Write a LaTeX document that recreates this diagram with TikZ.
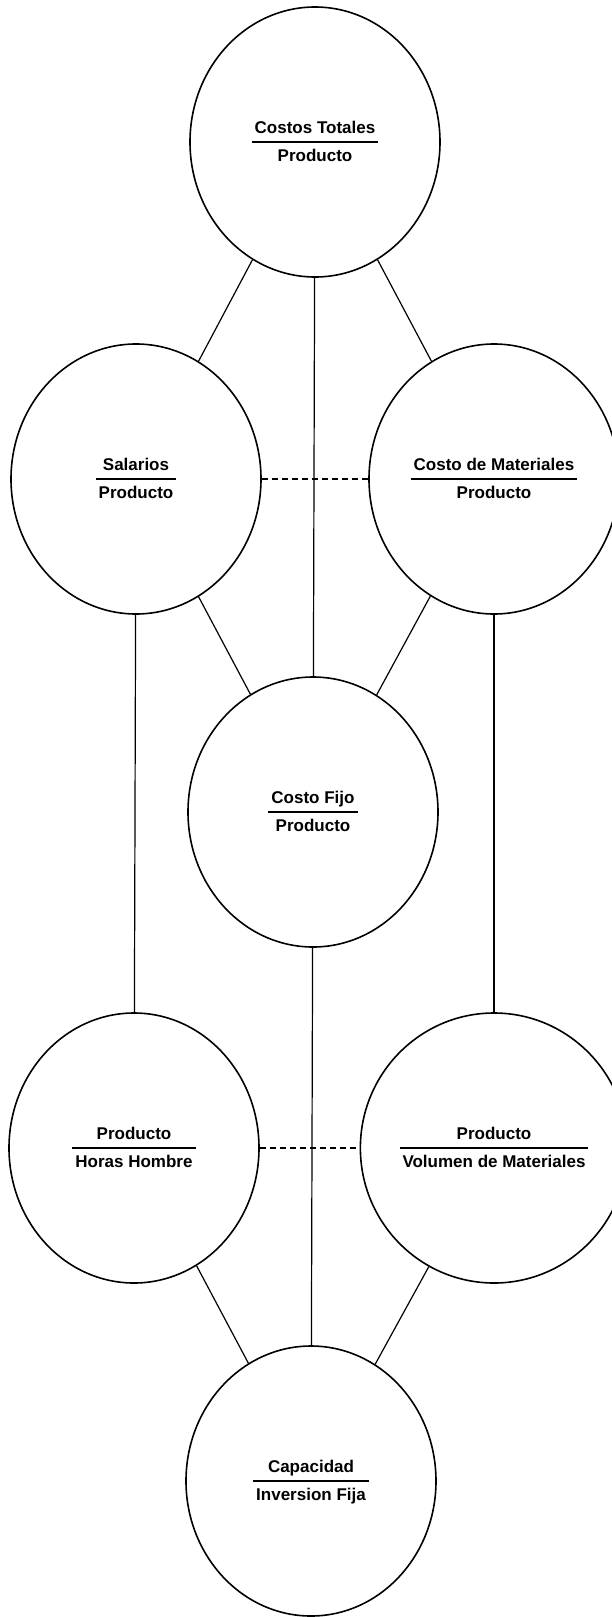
\documentclass[tikz,border=0pt]{standalone}
\usepackage{fontspec}
\setmainfont{Liberation Sans}
\usetikzlibrary{shapes.geometric}
\newcommand{\fracbox}[2]{{\setlength{\tabcolsep}{3pt}\setlength{\arrayrulewidth}{1.2pt}\renewcommand{\arraystretch}{1.35}\begin{tabular}{c}#1\\\hline #2\end{tabular}}}
\begin{document}
\begin{tikzpicture}[x=1pt,y=-1pt,
  ratio/.style={ellipse, draw, line width=1.6pt, minimum width=250pt, minimum height=270pt, inner sep=0pt, font=\fontsize{17}{20.4}\selectfont\bfseries},
  link/.style={line width=1.2pt},
  dlink/.style={line width=1.2pt, dash pattern=on 6pt off 4pt}]
\useasboundingbox (0,0) rectangle (612,1617);
\node[ratio] (top) at (315,142) {\fracbox{Costos Totales}{Producto}};
\node[ratio] (sal) at (136,479) {\fracbox{Salarios}{Producto}};
\node[ratio] (mat) at (494,479) {\fracbox{Costo de Materiales}{Producto}};
\node[ratio] (fijo) at (313,812) {\fracbox{Costo Fijo}{Producto}};
\node[ratio] (hh) at (134,1148) {\fracbox{Producto}{Horas Hombre}};
\node[ratio] (vol) at (494,1148) {\fracbox{Producto}{Volumen de Materiales}};
\node[ratio] (cap) at (311,1481) {\fracbox{Capacidad}{Inversion Fija}};
\draw[link] (top) -- (sal);
\draw[link] (top) -- (fijo);
\draw[link] (top) -- (mat);
\draw[dlink] (sal) -- (mat);
\draw[link] (sal) -- (fijo);
\draw[link] (mat) -- (fijo);
\draw[link] (sal) -- (hh);
\draw[link] (mat) -- (vol);
\draw[link] (fijo) -- (cap);
\draw[dlink] (hh) -- (vol);
\draw[link] (hh) -- (cap);
\draw[link] (vol) -- (cap);
\end{tikzpicture}
\end{document}
